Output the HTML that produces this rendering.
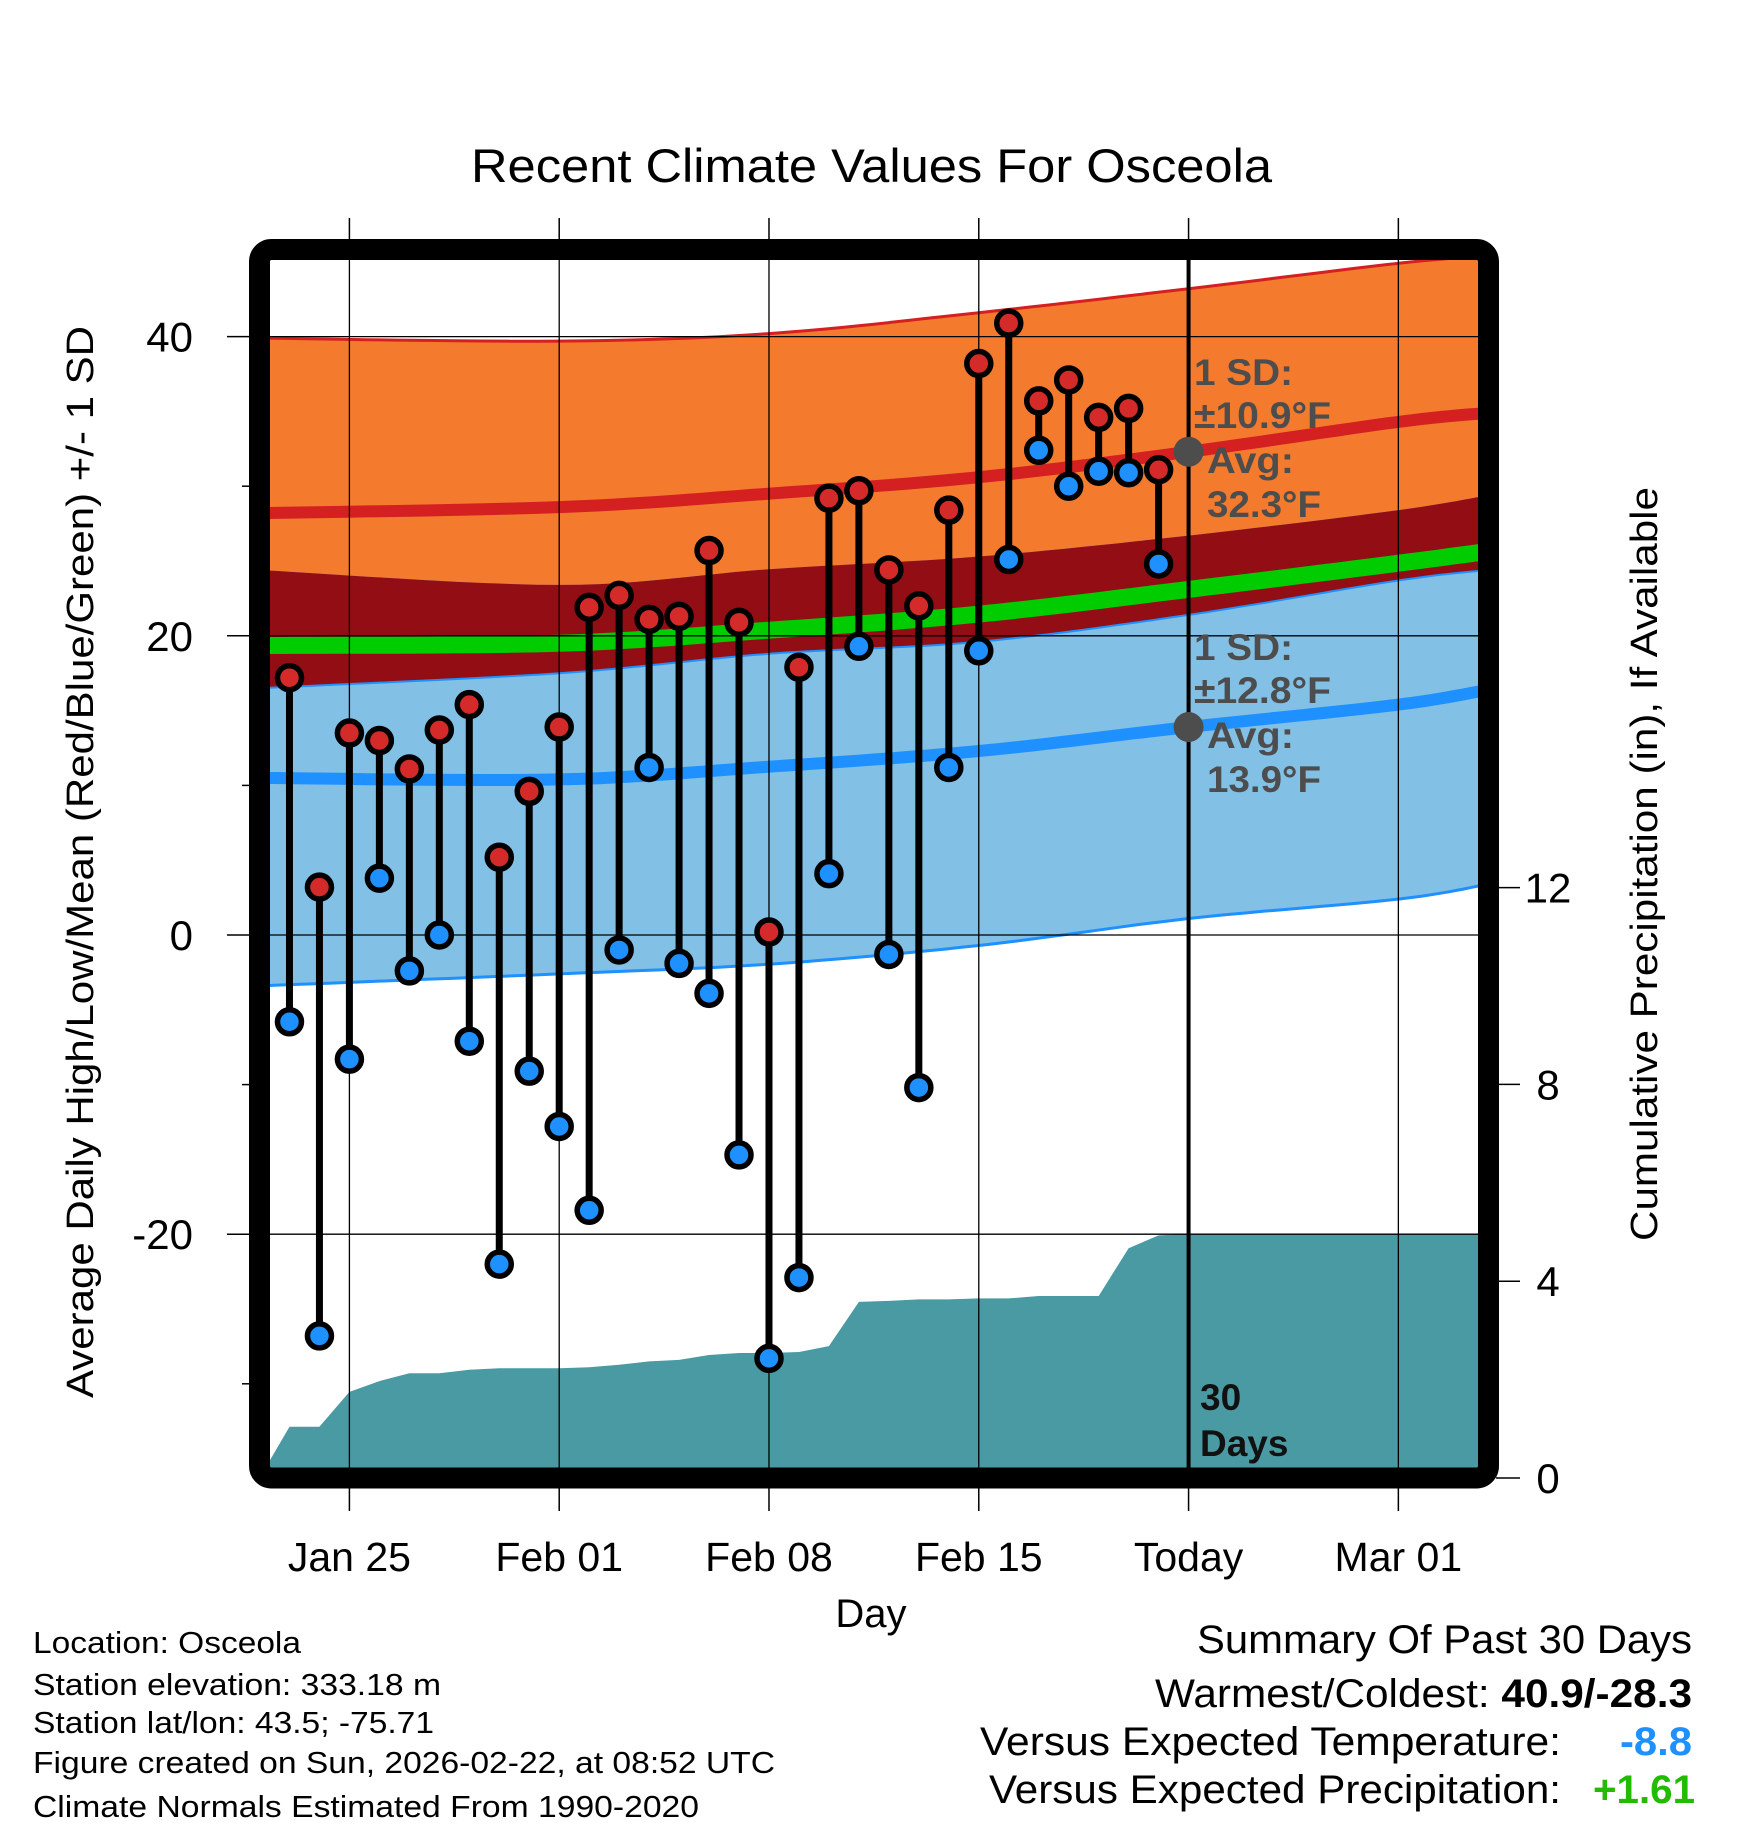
<!DOCTYPE html>
<html><head><meta charset="utf-8"><style>
html,body{margin:0;padding:0;background:#fff;}
svg{display:block;font-family:"Liberation Sans",Arial,sans-serif;}
</style></head><body>
<svg id="chart" width="1748" height="1828" viewBox="0 0 1748 1828" xmlns="http://www.w3.org/2000/svg">
<defs><clipPath id="plotclip"><rect x="270" y="260" width="1208" height="1208"/></clipPath></defs>
<text x="471" y="182" font-size="47" textLength="801" lengthAdjust="spacingAndGlyphs">Recent Climate Values For Osceola</text>
<g id="plot" clip-path="url(#plotclip)"></g>
<g id="over"></g>
<rect x="259.5" y="249.5" width="1229" height="1228.5" rx="12" fill="none" stroke="#000" stroke-width="21"/>
<g id="axes"></g>
<text transform="translate(93,862) rotate(-90)" font-size="38" text-anchor="middle" textLength="1072" lengthAdjust="spacingAndGlyphs">Average Daily High/Low/Mean (Red/Blue/Green) +/- 1 SD</text>
<text transform="translate(1657,864) rotate(-90)" font-size="38" text-anchor="middle" textLength="754" lengthAdjust="spacingAndGlyphs">Cumulative Precipitation (in), If Available</text>
<text x="871" y="1627" font-size="40" text-anchor="middle">Day</text>
<g font-size="31">
<text x="33" y="1653" textLength="268" lengthAdjust="spacingAndGlyphs">Location: Osceola</text>
<text x="33" y="1695" textLength="408" lengthAdjust="spacingAndGlyphs">Station elevation: 333.18 m</text>
<text x="33" y="1733" textLength="401" lengthAdjust="spacingAndGlyphs">Station lat/lon: 43.5; -75.71</text>
<text x="33" y="1773" textLength="742" lengthAdjust="spacingAndGlyphs">Figure created on Sun, 2026-02-22, at 08:52 UTC</text>
<text x="33" y="1817" textLength="666" lengthAdjust="spacingAndGlyphs">Climate Normals Estimated From 1990-2020</text>
</g>
<g font-size="40">
<text x="1197" y="1653" textLength="495" lengthAdjust="spacingAndGlyphs">Summary Of Past 30 Days</text>
<text x="1155" y="1707" textLength="537" lengthAdjust="spacingAndGlyphs">Warmest/Coldest: <tspan font-weight="bold">40.9/-28.3</tspan></text>
<text x="980" y="1755" textLength="581" lengthAdjust="spacingAndGlyphs">Versus Expected Temperature:</text>
<text x="1620" y="1755" font-weight="bold" fill="#1e90ff" textLength="72" lengthAdjust="spacingAndGlyphs">-8.8</text>
<text x="989" y="1803" textLength="572" lengthAdjust="spacingAndGlyphs">Versus Expected Precipitation:</text>
<text x="1593" y="1803" font-weight="bold" fill="#22bb00" textLength="102" lengthAdjust="spacingAndGlyphs">+1.61</text>
</g>
</svg>
<script>
// normals sampled at days since Jan 22
const normDays = [0, 10, 17, 24, 31, 38, 41];
const hiMean = [28.2, 28.6, 29.5, 30.6, 32.3, 34.3, 34.9];
const hiSD = [11.7, 11.1, 10.7, 11.0, 10.9, 10.6, 10.5];
const loMean = [10.5, 10.4, 11.25, 12.3, 13.9, 15.4, 16.4];
const loSD = [13.9, 13.0, 13.2, 13.0, 12.8, 13.0, 13.0];
// observations Jan 23 .. Feb 21 (days 1..30)
const obsDays = [1,2,3,4,5,6,7,8,9,10,11,12,13,14,15,16,17,18,19,20,21,22,23,24,25,26,27,28,29,30];
const highs = [17.2,3.2,13.5,13.0,11.1,13.7,15.4,5.2,9.6,13.9,21.9,22.7,21.1,21.3,25.7,20.9,0.2,17.9,29.2,29.7,24.4,22.0,28.4,38.2,40.9,35.7,37.1,34.6,35.2,31.1];
const lows = [-5.8,-26.8,-8.3,3.8,-2.4,0.0,-7.1,-22.0,-9.1,-12.8,-18.4,-1.0,11.2,-1.9,-3.9,-14.7,-28.3,-22.9,4.1,19.3,-1.3,-10.2,11.2,19.0,25.1,32.4,30.0,31.0,30.9,24.8];
// cumulative precipitation, days 0..31 then flat
const precipDays = [0,1,2,3,4,5,6,7,8,9,10,11,12,13,14,15,16,17,18,19,20,21,22,23,24,25,26,27,28,29,30,31,41];
const precip = [0,1.04,1.04,1.75,1.97,2.13,2.13,2.2,2.23,2.23,2.23,2.25,2.3,2.37,2.4,2.5,2.54,2.54,2.56,2.68,3.58,3.6,3.63,3.63,3.65,3.65,3.7,3.7,3.7,4.67,4.93,4.96,4.96];
const tempTicks = [40,20,0,-20];
const tempMinor = [30,10,-10,-30];
const precipTicks = [0,4,8,12];
const dateLabels = ["Jan 25","Feb 01","Feb 08","Feb 15","Today","Mar 01"];
const dateDays = [3,10,17,24,31,38];
const todayDay = 31;

const NS="http://www.w3.org/2000/svg";
const X = d => 259.5 + d*29.97;
const Y = t => 935 - 14.96*t;
const P = p => 1478 - 49.2*p;
function mk(parent, tag, attrs){const e=document.createElementNS(NS,tag);for(const k in attrs)e.setAttribute(k,attrs[k]);parent.appendChild(e);return e;}
const plot=document.getElementById('plot'), over=document.getElementById('over'), axes=document.getElementById('axes');
// smooth curve through sampled normals (Catmull-Rom rendering)
function smoothPts(ds,vs){
  const out=[];
  const n=ds.length;
  for(let i=0;i<n-1;i++){
    const x0=ds[Math.max(i-1,0)],x1=ds[i],x2=ds[i+1],x3=ds[Math.min(i+2,n-1)];
    const v0=vs[Math.max(i-1,0)],v1=vs[i],v2=vs[i+1],v3=vs[Math.min(i+2,n-1)];
    for(let s=0;s<12;s++){
      const t=s/12,t2=t*t,t3=t2*t;
      const f=(a,b,c,d)=>0.5*((2*b)+(-a+c)*t+(2*a-5*b+4*c-d)*t2+(-a+3*b-3*c+d)*t3);
      out.push([f(x0,x1,x2,x3),f(v0,v1,v2,v3)]);
    }
  }
  out.push([ds[n-1],vs[n-1]]);
  return out.map(p=>X(p[0]).toFixed(1)+','+Y(p[1]).toFixed(1));
}
const pts=(ds,vs,f)=>ds.map((d,i)=>X(d).toFixed(1)+','+f(vs[i]).toFixed(1));
const hiU=hiMean.map((m,i)=>m+hiSD[i]), hiL=hiMean.map((m,i)=>m-hiSD[i]);
const loU=loMean.map((m,i)=>m+loSD[i]), loL=loMean.map((m,i)=>m-loSD[i]);
const avg=hiMean.map((m,i)=>(m+loMean[i])/2);
function band(u,l,fill,name){
  const p=mk(plot,'polygon',{points:smoothPts(normDays,u).concat(smoothPts(normDays,l).reverse()).join(' '),fill:fill});
  
  
}
band(hiU,hiL,'#f47a2e','high-sd-band');
band(loU,loL,'#82c0e6','low-sd-band');
band(hiL,loU,'#920d14','overlap-band');
function line(vals,color,w,name){
  const l=mk(plot,'polyline',{points:smoothPts(normDays,vals).join(' '),fill:'none',stroke:color,'stroke-width':w});
  
  
}
line(hiU,'#d42020',3,'high-upper-line');
line(hiL,'#1e90ff',2,'high-lower-line');
line(loL,'#1e90ff',3,'low-lower-line');
line(avg,'#00cc00',17,'mean-line');
line(hiMean,'#d42020',12,'high-mean-line');
line(loMean,'#1e90ff',12,'low-mean-line');
// precip
const pp=mk(plot,'polygon',{points:pts(precipDays,precip,P).concat([X(41)+','+P(0),X(0)+','+P(0)]).join(' '),fill:'#4a9aa3'});


// grid
dateDays.forEach((d,i)=>{ if(d===todayDay) return;
  const g=mk(plot,'line',{x1:X(d),x2:X(d),y1:250,y2:1480,stroke:'#000','stroke-width':1.3});
  
  
});
tempTicks.forEach(t=>{
  const g=mk(plot,'line',{x1:250,x2:1490,y1:Y(t),y2:Y(t),stroke:'#000','stroke-width':1.3});
  
  
});
// today line
const tl=mk(plot,'line',{x1:X(todayDay),x2:X(todayDay),y1:250,y2:1480,stroke:'#000','stroke-width':4});


// stems and markers
obsDays.forEach((d,i)=>{
  const s=mk(plot,'line',{x1:X(d),x2:X(d),y1:Y(highs[i]),y2:Y(lows[i]),stroke:'#000','stroke-width':7});
  
  
});
obsDays.forEach((d,i)=>{
  const h=mk(plot,'circle',{cx:X(d),cy:Y(highs[i]),r:12,fill:'#d42a2a',stroke:'#000','stroke-width':5.5});
  
  
  const l=mk(plot,'circle',{cx:X(d),cy:Y(lows[i]),r:12,fill:'#1e90ff',stroke:'#000','stroke-width':5.5});
  
  
});
// annotations
[[hiMean[4],'high-avg-dot'],[loMean[4],'low-avg-dot']].forEach(a=>{
  const c=mk(plot,'circle',{cx:X(todayDay),cy:Y(a[0]),r:15,fill:'#4d4d4d'});
  
  
});
const ann=[["1 SD:",1194,385,99],["\u00B110.9\u00B0F",1194,428,137],["Avg:",1207,473,87],["32.3\u00B0F",1207,517,114],
           ["1 SD:",1194,660,99],["\u00B112.8\u00B0F",1194,703,137],["Avg:",1207,748,87],["13.9\u00B0F",1207,792,114]];
ann.forEach(a=>{
  const t=mk(over,'text',{x:a[1],y:a[2],'font-size':37,'font-weight':'bold',fill:'#4d4d4d',textLength:a[3],lengthAdjust:'spacingAndGlyphs'});
  t.textContent=a[0];
  
  
});
[["30",1410],["Days",1456]].forEach(a=>{
  const t=mk(over,'text',{x:1200,y:a[1],'font-size':37,'font-weight':'bold',fill:'#111'});
  t.textContent=a[0];
  
  
});
// axes ticks & labels
tempTicks.forEach(t=>{
  const k=mk(axes,'line',{x1:227,x2:252,y1:Y(t),y2:Y(t),stroke:'#000','stroke-width':1.5});
  
  
  const lb=mk(axes,'text',{x:193,y:Y(t)+15,'font-size':42,'text-anchor':'end'});
  lb.textContent=String(t);
  
  
});
tempMinor.forEach(t=>{
  const k=mk(axes,'line',{x1:242,x2:252,y1:Y(t),y2:Y(t),stroke:'#000','stroke-width':1.5});
  
  
});
precipTicks.forEach(p=>{
  const k=mk(axes,'line',{x1:1496,x2:1520,y1:P(p),y2:P(p),stroke:'#000','stroke-width':1.5});
  
  
  const lb=mk(axes,'text',{x:1548,y:P(p)+15,'font-size':42,'text-anchor':'middle'});
  lb.textContent=String(p);
  
  
});
dateDays.forEach((d,i)=>{
  const k1=mk(axes,'line',{x1:X(d),x2:X(d),y1:218,y2:242,stroke:'#000','stroke-width':1.5});
  
  
  const k2=mk(axes,'line',{x1:X(d),x2:X(d),y1:1486,y2:1511,stroke:'#000','stroke-width':1.5});
  
  
  const lb=mk(axes,'text',{x:X(d),y:1571,'font-size':41,'text-anchor':'middle'});
  lb.textContent=dateLabels[i];
  
  
});
</script>
</body></html>
